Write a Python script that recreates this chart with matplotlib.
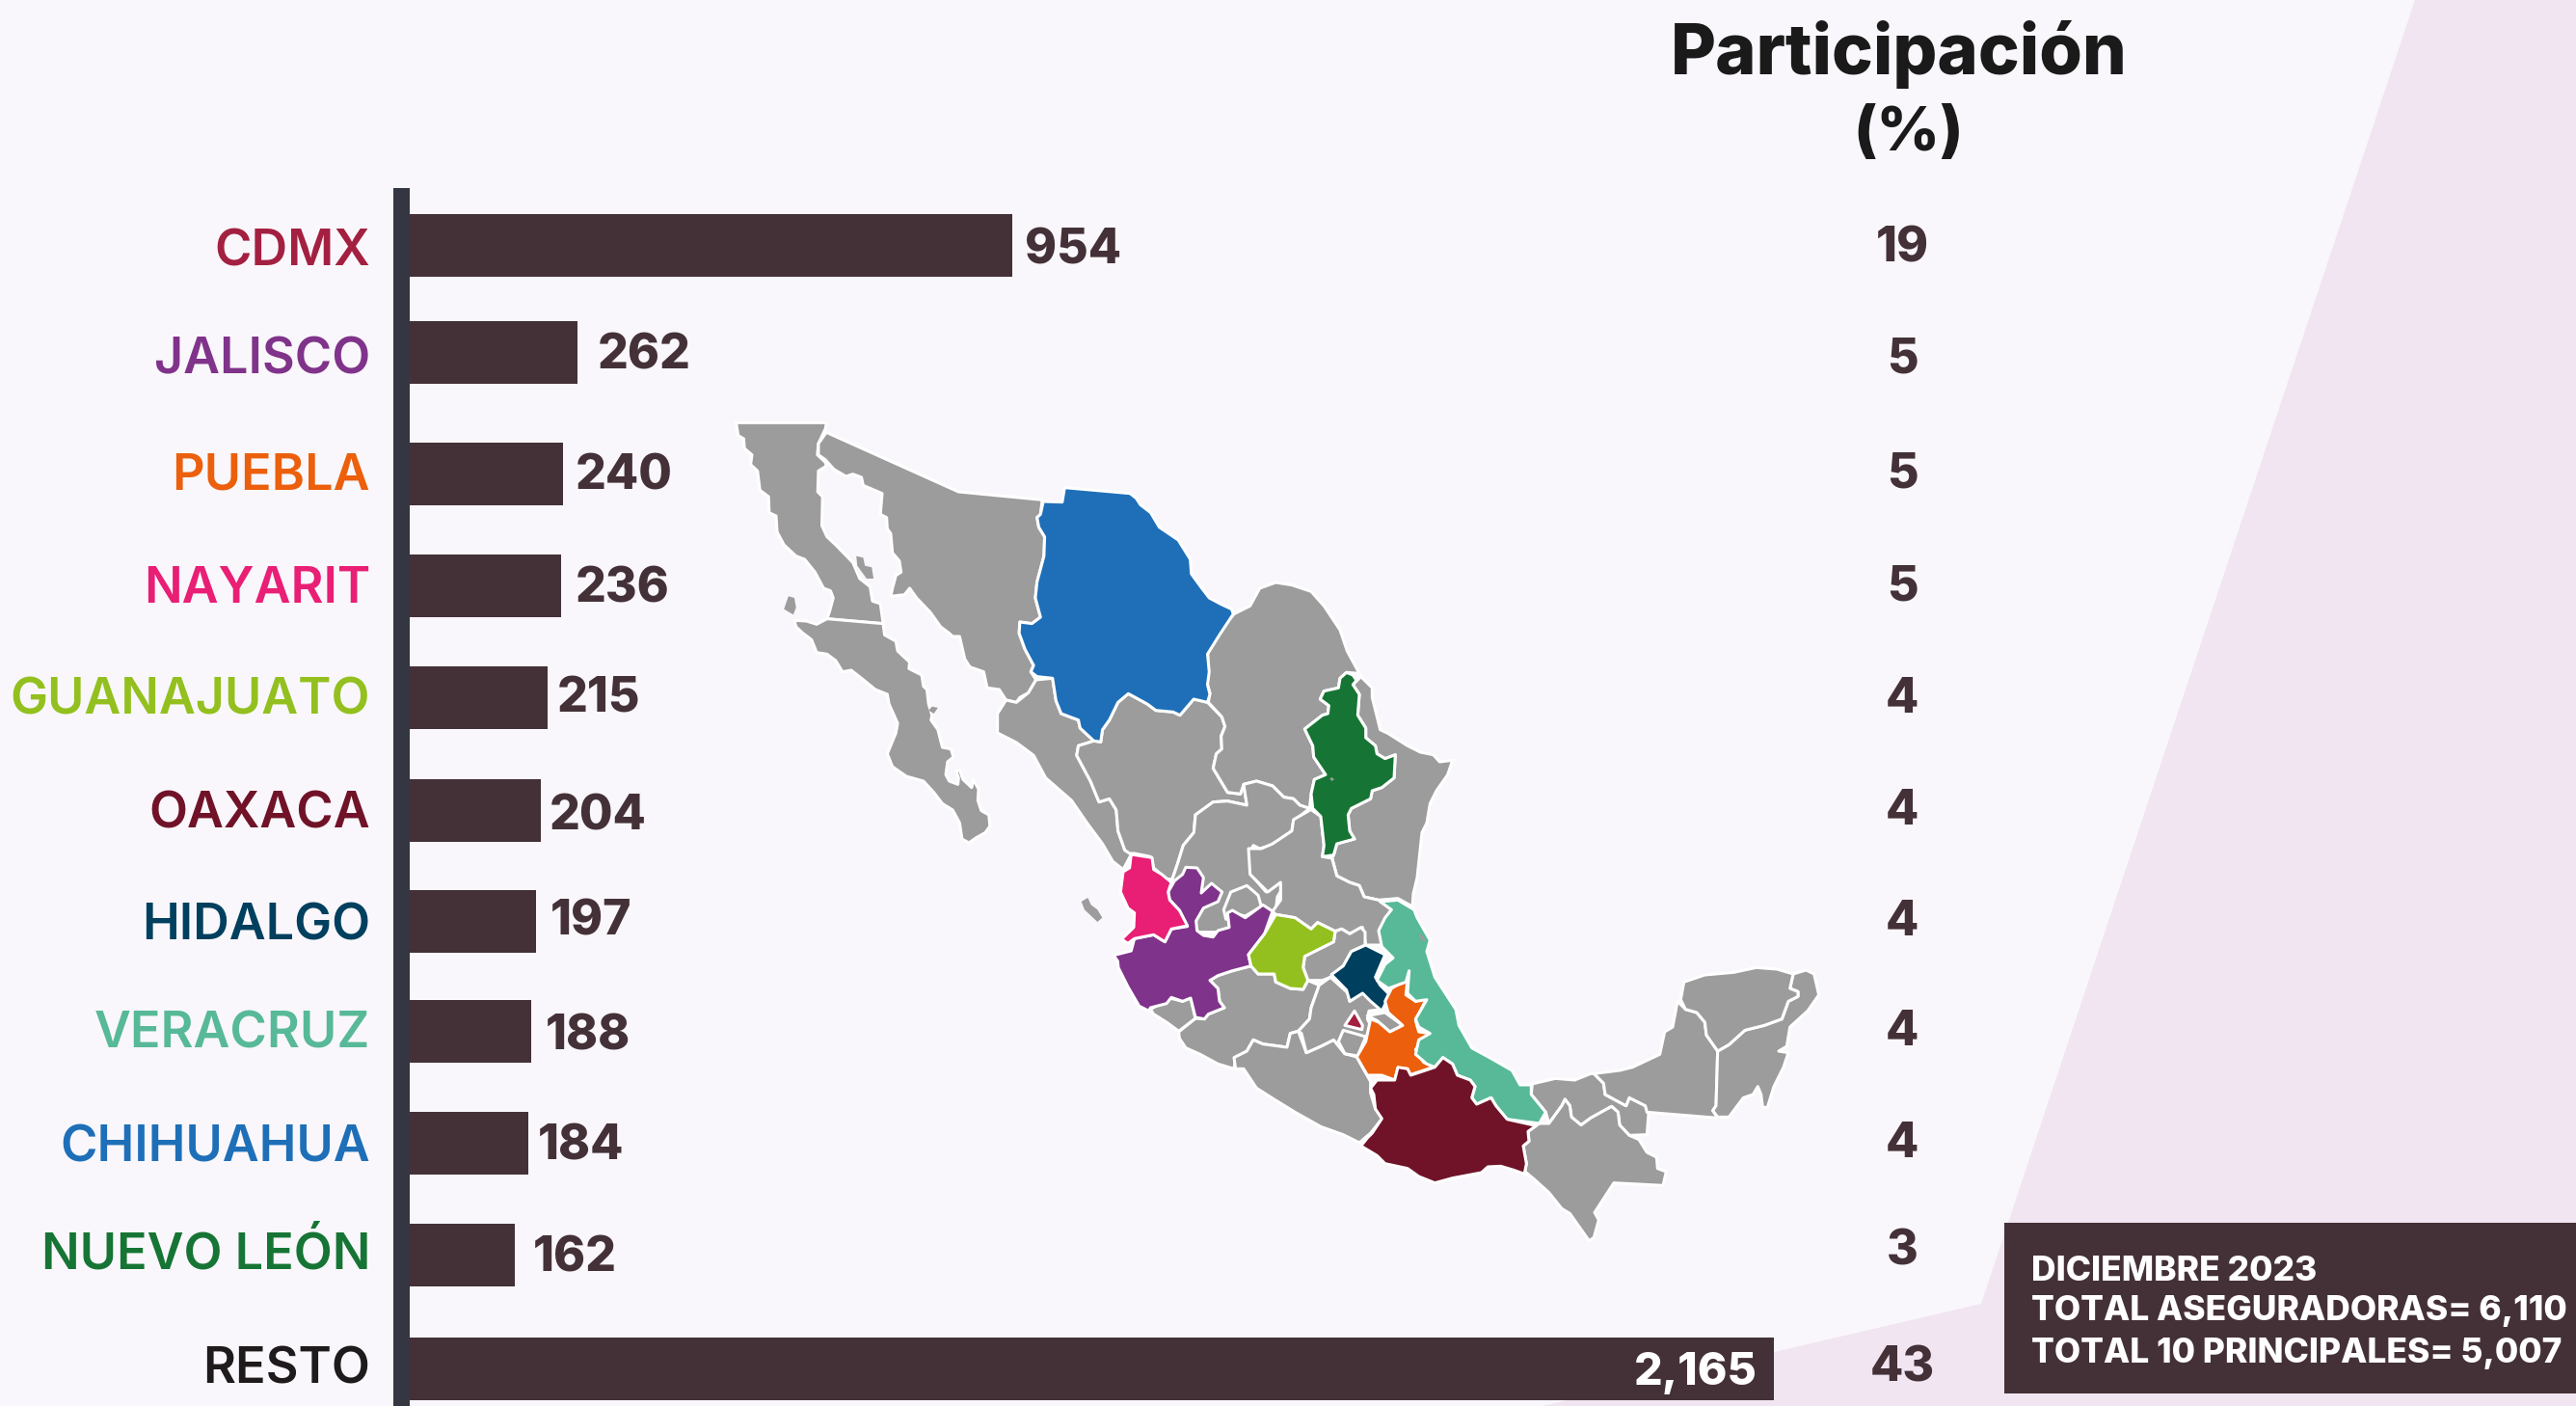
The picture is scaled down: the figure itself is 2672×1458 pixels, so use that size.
"""Aseguradoras por entidad: bars on the left, Mexico map behind, share column."""

import matplotlib
matplotlib.use("Agg")
import matplotlib.pyplot as plt
from matplotlib.patches import Polygon
import numpy as np

FONT = ["Inter", "DejaVu Sans"]
plt.rcParams["font.family"] = FONT

# Data
STATES = ["CDMX", "JALISCO", "PUEBLA", "NAYARIT", "GUANAJUATO", "OAXACA", "HIDALGO",
          "VERACRUZ", "CHIHUAHUA", "NUEVO LEÓN", "RESTO"]
COUNTS = [954, 262, 240, 236, 215, 204, 197, 188, 184, 162, 2165]
SHARES = [19, 5, 5, 5, 4, 4, 4, 4, 4, 3, 43]
STATE_COLORS = ["#A32041", "#80338A", "#EC5F0C", "#E91E75", "#93C01F", "#701328", "#003F5E",
                "#57B997", "#1E6FB8", "#167534", "#1F1A1C"]
SUMMARY = ["DICIEMBRE 2023", "TOTAL ASEGURADORAS= 6,110", "TOTAL 10 PRINCIPALES= 5,007"]

# Layout, in reference pixels (rows are not evenly spaced in the original)
BAR_ROWS = [254.5, 365.5, 491.5, 607.5, 723.5, 840, 955.5, 1069, 1185, 1301, 1419]
VALUE_X = [1063, 620, 597, 597, 578, 570, 571, 566, 558, 553, 1823]
VALUE_Y = [260, 369, 494, 611, 725, 847, 956, 1075, 1189, 1305, 1424]
LABEL_Y = [262, 374, 494, 611, 727, 845, 961, 1073, 1191, 1301, 1421]
SHARE_Y = [258, 373, 492, 609, 725, 841, 956, 1070, 1186, 1298, 1419]

BG = "#F9F7FB"
WEDGE = "#F0E5F1"
BAR = "#443138"
AXIS = "#343741"
GRAY = "#9C9C9C"


def crop(x0, y0, sx, sy):
    """Return a converter from a traced crop's coordinates to full pixels."""
    def conv(pts):
        pts = np.asarray(pts, dtype=float)
        return np.column_stack([x0 + pts[:, 0] / sx, y0 + pts[:, 1] / sy])
    return conv


A = crop(740, 420, 2.8, 3)
B = crop(1000, 800, 3, 3)
C = crop(1400, 950, 3, 3)
F = crop(1140, 590, 3, 3)

# Outlines, drawn back to front
MAP_GRAY = [
    A([(66,55),(328,55),(326,72),(305,120),(302,155),(325,178),(328,190),(305,205),(303,270),(317,285),(315,375),(330,410),(355,435),(405,490),(425,540),(455,565),(462,610),(485,618),(493,680),(330,665),(338,640),(348,600),(340,578),(320,570),(295,520),(265,480),(240,470),(205,435),(185,395),(182,345),(162,335),(160,285),(135,265),(128,205),(108,185),(112,155),(90,135),(88,105),(72,95)]),
    A([(235,670),(270,672),(300,682),(330,665),(493,680),(497,715),(530,735),(535,765),(570,800),(568,820),(605,840),(610,875),(620,885),(625,930),(635,965),(632,980),(652,1010),(665,1065),(690,1070),(697,1095),(680,1110),(675,1150),(685,1170),(710,1180),(712,1160),(705,1140),(715,1135),(725,1165),(750,1190),(755,1165),(770,1195),(768,1230),(778,1262),(800,1275),(803,1310),(790,1330),(765,1345),(742,1362),(722,1350),(715,1300),(695,1260),(665,1240),(640,1205),(610,1170),(560,1155),(520,1125),(505,1085),(530,1020),(535,990),(510,930),(505,900),(470,885),(430,850),(400,825),(375,830),(355,795),(330,775),(300,770),(285,730),(260,710),(240,690)]),
    A([(328,85),(712,270),(955,295),(950,340),(940,350),(945,380),(962,410),(960,470),(940,550),(935,600),(950,660),(925,680),(890,675),(888,710),(905,760),(930,810),(922,830),(937,855),(915,895),(890,910),(880,925),(850,918),(830,885),(795,880),(785,830),(745,815),(730,790),(715,720),(695,720),(685,710),(660,690),(630,645),(590,600),(570,570),(555,590),(515,595),(520,570),(530,530),(545,520),(540,485),(520,460),(515,400),(505,385),(503,350),(485,340),(490,275),(435,250),(430,225),(405,215),(385,222),(350,200),(325,170),(305,155),(305,120)]),
    A([(937,855),(985,850),(995,920),(1010,960),(1060,980),(1065,1005),(1105,1045),(1060,1060),(1055,1090),(1095,1170),(1120,1235),(1150,1225),(1170,1260),(1175,1325),(1195,1385),(1215,1395),(1190,1445),(1160,1420),(1130,1365),(1085,1300),(1040,1230),(965,1160),(930,1090),(880,1050),(825,1020),(825,960),(850,918),(880,925),(915,895)]),
    np.vstack([
        A([(1105,1045),(1125,1048),(1130,1010),(1150,980),(1175,925),(1205,898),(1260,930),(1285,950),(1335,955),(1355,965),(1395,915),(1435,925)]),
        F([(382,460),(392,490),(380,520),(382,560),(365,575),(355,620),(400,695),(440,700),(450,670),(460,735),(400,722),(355,725),(300,765),(295,820),(262,860),(245,915),(228,965),(210,965),(170,930),(160,895),(110,885),(95,885)]),
        A([(1195,1385),(1175,1325),(1170,1260),(1150,1225),(1120,1235),(1095,1170),(1055,1090),(1060,1060)]),
    ]),
    F([(420,140),(470,115),(500,60),(550,42),(600,50),(660,70),(700,115),(750,190),(772,255),(810,325),(770,322),(750,340),(745,370),(700,380),(688,405),(715,425),(712,450),(695,455),(640,498),(665,550),(668,585),(705,640),(670,655),(660,700),(655,745),(625,735),(605,715),(575,710),(540,675),(490,660),(450,670),(440,700),(400,695),(355,620),(365,575),(382,560),(380,520),(392,490),(382,460),(340,415),(345,385),(333,345),(340,310),(338,260),(380,190)]),
    F([(815,335),(850,370),(850,400),(875,500),(900,512),(960,550),(1000,570),(1040,578),(1060,600),(1100,595),(1085,640),(1050,690),(1030,730),(1020,790),(1005,820),(990,960),(978,1010),(975,1050),(930,1025),(870,1030),(825,1020),(810,985),(780,975),(740,955),(725,900),(730,890),(740,855),(795,840),(780,815),(775,765),(785,745),(845,715),(850,690),(880,680),(918,650),(922,578),(890,590),(865,575),(860,550),(830,525),(830,495),(805,455),(810,390),(790,360)]),
    F([(450,670),(490,660),(540,675),(575,710),(605,715),(625,735),(655,745),(605,785),(600,815),(535,860),(500,870),(480,860),(468,885),(472,950),(520,1005),(565,975),(570,995),(555,1020),(550,1060),(520,1130),(220,1130),(228,965),(245,915),(262,860),(295,820),(300,765),(355,725),(400,722),(460,735)]),
    F([(388,1060),(410,1005),(460,985),(495,1015),(505,1050),(455,1080),(410,1070),(395,1090)]),
    np.vstack([
        F([(655,745),(690,770),(700,860),(695,895),(725,900),(740,955),(780,975),(810,985),(825,1020),(870,1030)]),
        B([(1330,430),(1310,460),(1295,500),(1310,540),(1250,540),(1240,485),(1200,505),(1175,490),(1155,497),(1100,470),(1080,490),(1030,455),(970,445),(960,435),(985,400),(985,345),(945,375),(890,320),(885,240),(925,240),(960,225),(1020,185),(1025,150),(1080,118)]),
    ]),
    B([(1155,497),(1175,490),(1200,505),(1235,485),(1248,500),(1248,540),(1205,560),(1180,605),(1140,640),(1115,650),(1070,650),(1055,610),(1060,575),(1120,545),(1150,530)]),
    B([(668,810),(720,768),(748,770),(760,755),(810,735),(795,715),(790,675),(765,650),(790,635),(835,620),(893,605),(915,630),(965,630),(970,655),(1015,675),(1055,678),(1070,650),(1105,665),(1080,735),(1075,770),(1040,808),(1015,815),(1005,858),(930,848),(900,835),(880,870),(845,890),(840,925),(790,910),(735,880),(690,860),(670,830)]),
    B([(580,740),(640,705),(680,715),(705,705),(720,768),(668,808),(630,780),(590,755)]),
    B([(845,925),(840,890),(880,870),(900,835),(930,848),(1005,858),(1015,815),(1040,808),(1065,875),(1110,855),(1150,835),(1185,878),(1222,888),(1265,965),(1265,1000),(1280,1050),(1305,1075),(1265,1125),(1230,1155),(1180,1130),(1110,1105),(1030,1060),(965,1020),(910,985),(870,925)]),
    B([(1040,808),(1075,770),(1080,735),(1105,665),(1140,640),(1195,690),(1200,715),(1240,690),(1280,705),(1300,740),(1260,745),(1255,770),(1265,790),(1250,830),(1225,885),(1185,878),(1150,835),(1110,855),(1065,875),(1050,815)]),
    B([(1180,805),(1250,825),(1225,885),(1185,878),(1165,840)]),
    B([(1255,760),(1310,750),(1365,790),(1325,810),(1285,775)]),
    C([(568,522),(640,505),(700,510),(750,490),(760,490),(790,520),(795,555),(860,590),(870,565),(920,590),(930,615),(925,680),(870,682),(840,650),(835,610),(815,592),(750,628),(720,650),(690,625),(685,590),(670,570),(660,590),(620,645),(610,610),(565,555)]),
    C([(590,645),(620,645),(660,590),(670,570),(685,590),(690,625),(720,650),(750,628),(815,592),(835,610),(840,650),(870,682),(900,695),(925,735),(955,750),(958,785),(985,795),(975,838),(822,830),(762,922),(775,945),(760,1000),(745,1010),(685,925),(660,910),(620,860),(570,815),(545,795),(550,770),(540,715),(558,700),(555,670)]),
    C([(760,490),(840,480),(880,470),(965,430),(980,360),(1005,345),(1020,265),(1045,290),(1080,300),(1105,330),(1110,370),(1145,420),(1140,590),(1130,605),(1145,628),(925,610),(920,590),(870,565),(860,590),(795,555),(790,520)]),
    C([(1145,420),(1180,400),(1230,355),(1290,340),(1345,320),(1365,265),(1395,250),(1395,235),(1370,225),(1380,180),(1420,168),(1445,180),(1460,245),(1425,295),(1370,345),(1360,405),(1335,420),(1365,425),(1350,470),(1320,530),(1300,595),(1285,595),(1280,555),(1270,530),(1255,555),(1225,565),(1180,625),(1145,625),(1130,605),(1140,590)]),
    C([(1030,260),(1040,205),(1105,183),(1195,175),(1265,160),(1330,165),(1380,180),(1370,225),(1395,235),(1395,250),(1365,265),(1345,320),(1290,340),(1230,355),(1180,400),(1145,420),(1110,370),(1105,330),(1080,300),(1045,290)]),
]

MAP_ISLANDS = [
    A([(205,635),(218,595),(235,600),(240,630),(232,652)]),
    A([(415,470),(435,475),(440,500),(460,505),(465,540),(445,540),(418,500)]),
    A([(625,950),(635,938),(652,942),(640,960)]),
    B([(365,405),(385,393),(395,415),(415,430),(430,455),(415,468),(375,430)]),
]

MAP_COLORED = {
    "CHIHUAHUA": A([(1020,257),(1210,275),(1228,290),(1240,310),(1270,335),(1295,380),(1350,420),(1385,480),(1388,525),(1415,565),(1440,600),(1475,620),(1505,635),(1510,650),(1470,715),(1435,775),(1440,830),(1435,870),(1442,900),(1435,925),(1395,915),(1355,965),(1335,955),(1285,950),(1260,930),(1205,898),(1175,925),(1150,980),(1130,1010),(1125,1048),(1105,1045),(1065,1005),(1060,980),(1010,960),(995,920),(985,850),(940,845),(922,830),(930,810),(905,760),(888,710),(890,675),(925,680),(950,660),(935,600),(940,550),(960,470),(962,410),(945,380),(940,350),(950,340),(958,300),(1013,302)]),
    "NUEVO LEÓN": F([(770,322),(790,330),(800,345),(815,330),(790,360),(810,390),(805,455),(830,495),(830,525),(860,550),(865,575),(890,590),(922,578),(918,650),(880,680),(850,690),(845,715),(785,745),(775,765),(780,815),(795,840),(740,855),(730,890),(695,895),(700,860),(690,770),(665,745),(660,700),(670,655),(705,640),(668,585),(665,550),(640,498),(695,455),(712,450),(715,425),(688,405),(700,380),(745,370),(750,340)]),
    "JALISCO": B([(465,572),(520,558),(530,520),(590,508),(625,530),(645,490),(695,482),(670,432),(640,400),(635,375),(655,340),(680,320),(690,298),(725,300),(745,330),(738,378),(770,348),(803,375),(790,405),(745,425),(722,465),(725,495),(745,510),(775,515),(790,495),(825,485),(820,440),(835,432),(875,455),(930,415),(960,435),(935,505),(885,570),(893,605),(835,620),(790,635),(765,650),(790,675),(795,715),(810,735),(760,755),(748,770),(720,765),(705,705),(680,715),(645,703),(630,722),(580,735),(575,745),(545,730),(510,670),(480,610),(478,590)]),
    "NAYARIT": B([(520,258),(585,268),(590,305),(615,320),(645,345),(635,375),(640,400),(670,432),(695,480),(645,490),(625,530),(590,508),(530,520),(510,535),(490,522),(528,485),(530,440),(510,425),(487,375),(495,312),(515,300)]),
    "GUANAJUATO": B([(970,445),(1030,455),(1080,490),(1100,470),(1155,497),(1150,530),(1120,545),(1060,575),(1055,610),(1070,650),(1055,678),(1015,675),(970,655),(965,630),(935,630),(915,630),(893,605),(885,570),(935,505)]),
    "HIDALGO": B([(1250,540),(1310,570),(1280,640),(1295,665),(1325,695),(1300,745),(1265,715),(1240,690),(1200,715),(1190,680),(1143,632),(1180,605),(1205,560)]),
    "CDMX": B([(1215,745),(1240,790),(1238,803),(1185,790)]),
    "PUEBLA": B([(1380,645),(1375,695),(1405,715),(1440,705),(1405,775),(1415,810),(1450,815),(1405,865),(1430,905),(1465,918),(1385,945),(1380,925),(1350,925),(1340,960),(1300,945),(1255,945),(1222,888),(1250,840),(1265,770),(1290,780),(1325,810),(1365,790),(1320,750),(1310,715),(1330,675)]),
    "VERACRUZ": np.vstack([
        B([(1295,405),(1350,400),(1400,430)]),
        C([(210,5),(250,75),(240,110),(265,190),(330,290),(340,340),(380,410),(435,440),(505,480),(530,525),(565,525),(565,555),(610,610),(590,645),(490,632),(455,590),(440,565),(395,585),(380,565),(390,530),(375,510),(335,495),(320,460),(290,440),(265,470),(240,460),(205,430),(215,385),(250,365),(215,345),(205,320),(240,260),(205,265),(180,240),(185,170),(175,205),(120,225),(85,200),(110,150),(135,130),(100,95),(90,45),(110,5)]),
        B([(1330,430)]),
    ]),
    "OAXACA": C([(290,440),(320,460),(335,495),(375,510),(390,530),(380,565),(395,585),(440,565),(455,590),(490,632),(580,652),(555,670),(558,700),(540,715),(550,770),(545,795),(560,808),(510,790),(470,778),(430,780),(410,798),(320,815),(265,830),(215,810),(180,785),(110,770),(85,745),(35,715),(55,690),(70,675),(100,630),(80,600),(75,555),(65,535),(85,510),(140,510),(150,470),(180,475),(190,495),(265,470)]),
}

fig = plt.figure(figsize=(26.72, 14.58), dpi=100, facecolor=BG)

# Background wedge, box and map sit in a full-figure pixel axes
bg = fig.add_axes([0, 0, 1, 1])
bg.set_xlim(0, 2672)
bg.set_ylim(1458, 0)
bg.axis("off")
bg.add_patch(Polygon([(2505, 0), (2672, 0), (2672, 1458), (1600, 1458), (2055, 1352)],
                     facecolor=WEDGE, edgecolor="none"))
for pts in MAP_GRAY:
    bg.add_patch(Polygon(pts, facecolor=GRAY, edgecolor="white", linewidth=2.2, joinstyle="round"))
for pts in MAP_ISLANDS:
    bg.add_patch(Polygon(pts, facecolor=GRAY, edgecolor="none"))
for name, pts in MAP_COLORED.items():
    color = STATE_COLORS[STATES.index(name)]
    bg.add_patch(Polygon(pts, facecolor=color, edgecolor="white", linewidth=2.2, joinstyle="round"))
bg.add_patch(Polygon(F([(718,652),(725,648),(732,655),(724,660)]), facecolor=GRAY, edgecolor="none"))
bg.add_patch(Polygon(C([(215,60),(222,56),(236,74),(228,80)]), facecolor=GRAY, edgecolor="none"))

# Bars: x in counts, y in reference pixels. They start a little behind the axis line.
PX_PER_UNIT = 0.652
BAR_ZERO = 428
BEHIND_AXIS = 15
ax = fig.add_axes([BAR_ZERO / 2672, 0, 1 - BAR_ZERO / 2672, 1])
ax.set_xlim(0, (2672 - BAR_ZERO) / PX_PER_UNIT)
ax.set_ylim(1458, 0)
ax.axis("off")
ax.patch.set_alpha(0)
bars = ax.barh(BAR_ROWS, np.array(COUNTS) + BEHIND_AXIS, left=-BEHIND_AXIS, height=65,
               color=BAR, linewidth=0)
for bar in bars:
    bar.set_clip_on(False)

top = fig.add_axes([0, 0, 1, 1])
top.set_xlim(0, 2672)
top.set_ylim(1458, 0)
top.axis("off")
top.patch.set_alpha(0)
top.add_patch(plt.Rectangle((408, 195), 17, 1263, facecolor=AXIS, edgecolor="none"))

for i, state in enumerate(STATES):
    top.text(384, LABEL_Y[i], state, color=STATE_COLORS[i], fontsize=37.5, fontweight="semibold",
             ha="right", va="center")
    last = i == len(STATES) - 1
    top.text(VALUE_X[i], VALUE_Y[i], f"{COUNTS[i]:,}", color="white" if last else BAR,
             fontsize=33.5 if last else 36, fontweight="extra bold",
             ha="right" if last else "left", va="center")
    top.text(1973, SHARE_Y[i], str(SHARES[i]), color=BAR, fontsize=36, fontweight="extra bold",
             ha="center", va="center")

top.text(1970, 56, "Participación", color="#1A1A1A", fontsize=52, fontweight="extra bold",
         ha="center", va="center")
top.text(1980, 139, "(%)", color="#1A1A1A", fontsize=46, fontweight="extra bold",
         ha="center", va="center")

top.add_patch(plt.Rectangle((2079, 1268), 593, 177, facecolor=BAR, edgecolor="none"))
for line, y in zip(SUMMARY, [1318, 1360, 1403]):
    top.text(2107, y, line, color="white", fontsize=25.5, fontweight="extra bold", ha="left", va="center")

fig.savefig("out.png", dpi=100, facecolor=BG)
